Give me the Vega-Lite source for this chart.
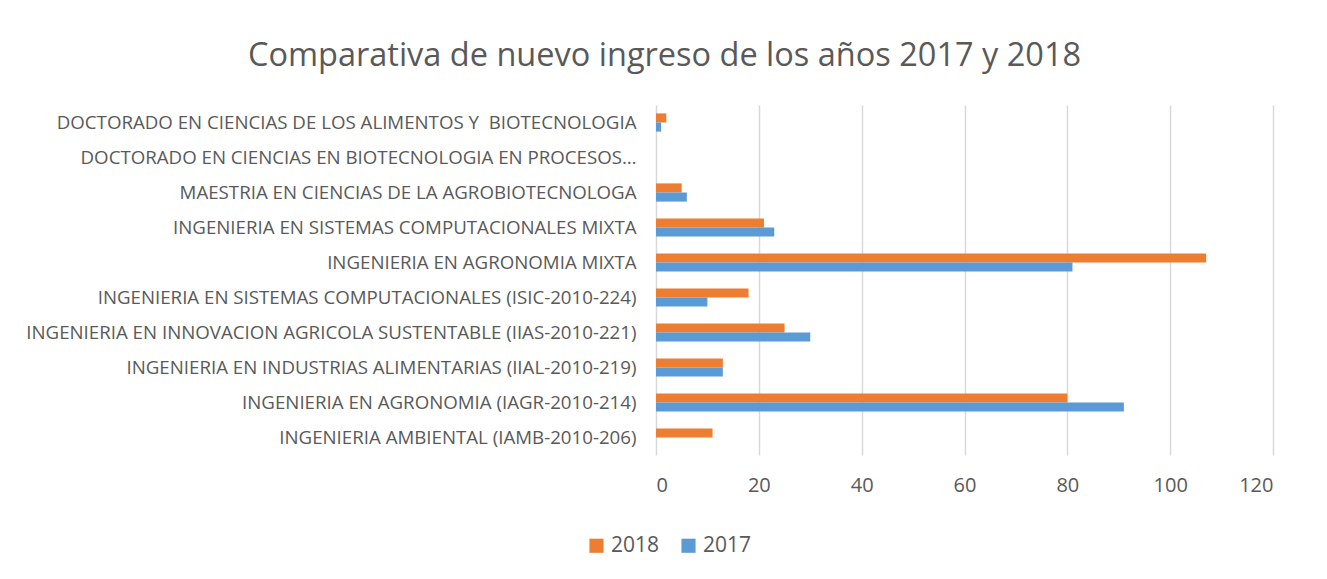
{
  "$schema": "https://vega.github.io/schema/vega-lite/v6.json",
  "autosize": {"type": "none"},
  "width": 617,
  "height": 350,
  "padding": {"left": 656, "top": 105, "right": 54, "bottom": 124},
  "background": "white",
  "title": {
    "text": "Comparativa de nuevo ingreso de los años 2017 y 2018",
    "font": "Open Sans",
    "fontSize": 32.5,
    "fontWeight": "normal",
    "color": "#595959",
    "anchor": "middle",
    "dx": -300,
    "offset": 33
  },
  "data": {
    "values": [
      {"programa": "DOCTORADO EN CIENCIAS DE LOS ALIMENTOS Y\u00a0 BIOTECNOLOGIA", "anio": "2018", "valor": 2},
      {"programa": "DOCTORADO EN CIENCIAS DE LOS ALIMENTOS Y\u00a0 BIOTECNOLOGIA", "anio": "2017", "valor": 1},
      {"programa": "DOCTORADO EN CIENCIAS EN BIOTECNOLOGIA EN PROCESOS…", "anio": "2018", "valor": 0},
      {"programa": "DOCTORADO EN CIENCIAS EN BIOTECNOLOGIA EN PROCESOS…", "anio": "2017", "valor": 0},
      {"programa": "MAESTRIA EN CIENCIAS DE LA AGROBIOTECNOLOGA", "anio": "2018", "valor": 5},
      {"programa": "MAESTRIA EN CIENCIAS DE LA AGROBIOTECNOLOGA", "anio": "2017", "valor": 6},
      {"programa": "INGENIERIA EN SISTEMAS COMPUTACIONALES MIXTA", "anio": "2018", "valor": 21},
      {"programa": "INGENIERIA EN SISTEMAS COMPUTACIONALES MIXTA", "anio": "2017", "valor": 23},
      {"programa": "INGENIERIA EN AGRONOMIA MIXTA", "anio": "2018", "valor": 107},
      {"programa": "INGENIERIA EN AGRONOMIA MIXTA", "anio": "2017", "valor": 81},
      {"programa": "INGENIERIA EN SISTEMAS COMPUTACIONALES (ISIC-2010-224)", "anio": "2018", "valor": 18},
      {"programa": "INGENIERIA EN SISTEMAS COMPUTACIONALES (ISIC-2010-224)", "anio": "2017", "valor": 10},
      {"programa": "INGENIERIA EN INNOVACION AGRICOLA SUSTENTABLE (IIAS-2010-221)", "anio": "2018", "valor": 25},
      {"programa": "INGENIERIA EN INNOVACION AGRICOLA SUSTENTABLE (IIAS-2010-221)", "anio": "2017", "valor": 30},
      {"programa": "INGENIERIA EN INDUSTRIAS ALIMENTARIAS (IIAL-2010-219)", "anio": "2018", "valor": 13},
      {"programa": "INGENIERIA EN INDUSTRIAS ALIMENTARIAS (IIAL-2010-219)", "anio": "2017", "valor": 13},
      {"programa": "INGENIERIA EN AGRONOMIA (IAGR-2010-214)", "anio": "2018", "valor": 80},
      {"programa": "INGENIERIA EN AGRONOMIA (IAGR-2010-214)", "anio": "2017", "valor": 91},
      {"programa": "INGENIERIA AMBIENTAL (IAMB-2010-206)", "anio": "2018", "valor": 11},
      {"programa": "INGENIERIA AMBIENTAL (IAMB-2010-206)", "anio": "2017", "valor": 0}
    ]
  },
  "mark": {"type": "bar"},
  "encoding": {
    "y": {
      "field": "programa",
      "type": "nominal",
      "sort": null,
      "scale": {"paddingInner": 0.48, "paddingOuter": 0.24},
      "axis": {
        "title": null,
        "ticks": false,
        "domain": false,
        "labelFont": "Open Sans",
        "labelFontSize": 18.7,
        "labelColor": "#595959",
        "labelPadding": 20,
        "labelLimit": 700
      }
    },
    "yOffset": {
      "field": "anio",
      "type": "nominal",
      "sort": ["2018", "2017"]
    },
    "x": {
      "field": "valor",
      "type": "quantitative",
      "scale": {"domain": [0, 120], "nice": false},
      "axis": {
        "title": null,
        "values": [0, 20, 40, 60, 80, 100, 120],
        "ticks": false,
        "domain": false,
        "grid": true,
        "gridColor": "#d9d9d9",
        "gridWidth": 1.5,
        "labelFont": "Open Sans",
        "labelFontSize": 20,
        "labelColor": "#595959",
        "labelPadding": 20
      }
    },
    "color": {
      "field": "anio",
      "type": "nominal",
      "scale": {"domain": ["2018", "2017"], "range": ["#ED7D31", "#5B9BD5"]},
      "legend": {
        "title": null,
        "orient": "none",
        "direction": "horizontal",
        "legendX": -70,
        "legendY": 430,
        "symbolType": "square",
        "symbolSize": 200,
        "labelFont": "Open Sans",
        "labelFontSize": 21,
        "labelColor": "#595959",
        "columnPadding": 18
      }
    }
  },
  "config": {"view": {"stroke": null}}
}
